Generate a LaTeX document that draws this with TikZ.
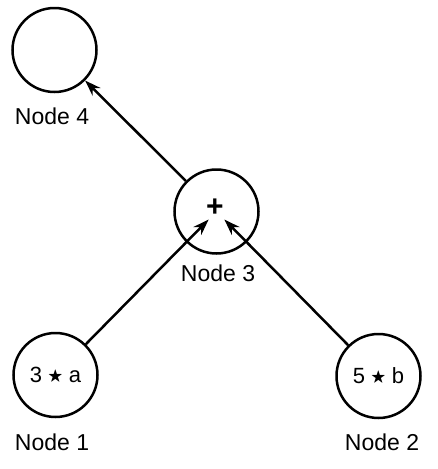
\documentclass[tikz,border=0pt]{standalone}
\usepackage{fontspec}
\usepackage{amssymb}
\setmainfont{Liberation Sans}
\usetikzlibrary{arrows.meta}
\newcommand{\mystar}{\raisebox{2pt}{\scalebox{0.7}{$\bigstar$}}}
\begin{document}
\begin{tikzpicture}[x=1pt,y=-1pt,
  vert/.style={circle,draw,line width=2.5pt,minimum size=84pt,inner sep=0pt,font=\fontsize{22}{24}\selectfont},
  lbl/.style={font=\fontsize{23}{26}\selectfont,inner sep=0pt},
  edge/.style={line width=2.5pt,-{Stealth[length=16pt,width=11pt]}}]
\useasboundingbox (0,0) rectangle (438,469);
\node[vert] (n4) at (54.5,50) {};
\node[vert] (n3) at (216.5,211.5) {};
\node[font=\fontsize{30}{32}\selectfont\bfseries,inner sep=0pt] (plus) at (215,208) {+};
\node[circle,minimum size=22pt,inner sep=0pt] (n3in) at (216.5,211.5) {};
\node[vert] (n1) at (55.5,375) {3 \mystar\ a};
\node[vert] (n2) at (378.5,376) {5 \mystar\ b};
\node[lbl] (l4) at (52,116) {Node 4};
\node[lbl] (l3) at (218,273) {Node 3};
\node[lbl] (l1) at (52,442) {Node 1};
\node[lbl] (l2) at (382,442) {Node 2};
\draw[edge] (n3) -- (n4);
\draw[edge] (n1) -- (n3in);
\draw[edge] (n2) -- (n3in);
\end{tikzpicture}
\end{document}
